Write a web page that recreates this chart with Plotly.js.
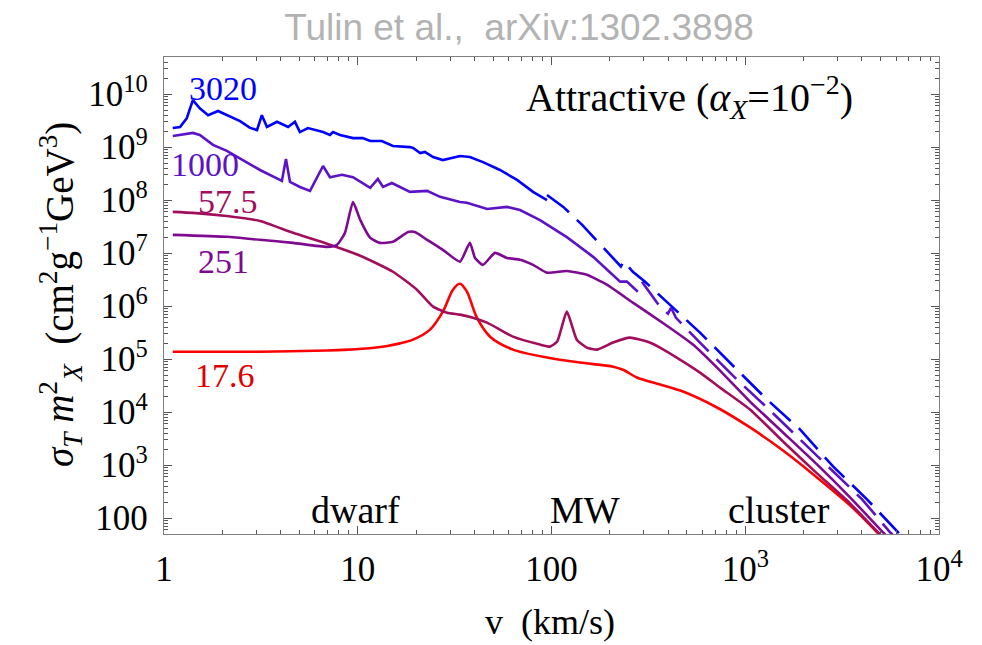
<!DOCTYPE html>
<html>
<head>
<meta charset="utf-8">
<script src="https://cdn.plot.ly/plotly-3.0.1.min.js"></script>
<style>
  html, body { margin: 0; padding: 0; background: #fff; }
  #chart { width: 982px; height: 645px; }
</style>
</head>
<body>
<div id="chart"></div>
<script>
// Transfer cross section sigma_T * m_X^2 vs relative velocity v (km/s),
// attractive Yukawa potential with alpha_X = 1e-2, for several DM masses (GeV).

// m_X = 3020 GeV (quantum regime, solid)
const v3020 = [1.11,1.21,1.31,1.41,1.53,1.69,1.90,2.11,2.47,2.78,3.02,3.20,3.40,3.83,4.37,4.74,5.03,5.53,6.62,7.19,7.45,8.10,9.45,10.6,11.6,13.3,15.2,18.6,19.3,21.0,22.2,24.5,27.5,33.7,37.9,44.3,54.2,66.4,80.3,94.8];
const s3020 = [2.29e9,2.4e9,3.5e9,7.7e9,5.4e9,4.0e9,4.8e9,4.0e9,3.1e9,2.3e9,2.1e9,4.0e9,2.4e9,3.0e9,2.4e9,3.0e9,1.92e9,2.29e9,1.92e9,1.69e9,1.92e9,1.69e9,1.48e9,1.48e9,1.30e9,1.30e9,1.05e9,1.0e9,9.6e8,7.7e8,8.1e8,6.5e8,5.7e8,6.8e8,6.5e8,5.2e8,3.7e8,2.4e8,1.43e8,1.0e8];
// m_X = 3020 GeV (classical regime, dashed)
const v3020c = [94.8,115,144,184,218,228,236,263,304,399,584,906,1295,1918,2838,4250,6140,6600];
const s3020c = [1.25e8,7.45e7,3.4e7,1.31e7,6.9e6,5.6e6,7.0e6,4.45e6,2.88e6,1.16e6,3.16e5,6.3e4,1.73e4,4.7e3,944,226,54,41];

// m_X = 1000 GeV
const v1000 = [1.11,1.41,1.53,1.79,2.11,2.56,3.13,4.06,4.26,4.47,5.03,5.67,6.17,6.62,7.19,8.29,9.45,11.6,12.7,13.5,15.0,18.6,22.8,26.6,33.7,36.6,46.5,58.9,68.8,87.2,120,164,226,245,279];
const s1000 = [1.62e9,1.85e9,1.69e9,1.10e9,8.5e8,5.7e8,3.7e8,2.3e8,5.97e8,2.2e8,1.77e8,1.49e8,2.6e8,4.4e8,2.7e8,3.0e8,2.7e8,1.70e8,2.5e8,1.77e8,2.1e8,1.43e8,1.49e8,1.15e8,9.2e7,8.9e7,6.8e7,7.45e7,6.5e7,4.2e7,2.0e7,8.5e6,2.9e6,2.9e6,1.87e6];
const v1000c = [293,363,399,414,439,584,906,1295,1918,2838,4010,5590,6000];
const s1000c = [2.88e6,9.75e5,7.2e5,9.3e5,6.0e5,2.04e5,4.1e4,1.22e4,3.05e3,760,226,54,42];

// m_X = 251 GeV
const v251 = [1.11,2.11,3.13,4.63,6.94,7.81,8.59,9.45,10.3,11.6,13.0,15.2,18.2,19.7,22.8,27.5,33.7,37.9,40.3,44.3,51.1,58.9,68.8,80.3,94.8,120,152,193,263,394,537,715,1058,1566,2346,3473,5140,5500];
const s251 = [2.21e7,2.03e7,1.78e7,1.56e7,1.31e7,1.43e7,2.41e7,9.2e7,4.24e7,1.94e7,1.56e7,1.63e7,2.5e7,2.5e7,1.78e7,1.15e7,6.9e6,1.56e7,8.1e6,6.0e6,1.01e7,8.1e6,7.5e6,6.0e6,4.26e6,4.6e6,3.9e6,2.53e6,1.16e6,4.26e5,1.88e5,6.9e4,1.58e4,4.13e3,1.03e3,247,54,42];

// m_X = 57.5 GeV
const v575 = [1.11,1.41,2.11,3.13,4.63,6.94,10.3,15.2,20.2,24.5,28.9,33.7,39.3,46.5,63.3,87.2,98.2,107,120,135,152,172,208,254,311,363,460,584,741,1058,1566,2346,3473,4840,5200];
const s575 = [6.0e7,5.74e7,5.0e7,4.05e7,2.41e7,1.50e7,8.9e6,4.45e6,2.04e6,9.75e5,7.5e5,6.9e5,6.05e5,4.87e5,2.65e5,1.88e5,1.72e5,2.14e5,7.86e5,2.33e5,1.65e5,1.51e5,2.05e5,2.54e5,2.14e5,1.65e5,9.8e4,5.57e4,2.9e4,1.12e4,2.79e3,698,190,54,42];

// m_X = 17.6 GeV
const v176 = [1.11,3.13,6.94,9.0,11.5,14.0,16.5,19.3,23.6,27.5,31.0,33.7,36.6,41.2,48.2,63.3,94.8,140,208,234,276,363,477,715,1058,1566,2346,3473,4790,5100];
const s176 = [1.38e5,1.38e5,1.45e5,1.51e5,1.6e5,1.75e5,1.98e5,2.33e5,3.6e5,7.86e5,2.04e6,2.64e6,1.87e6,6.05e5,2.65e5,1.51e5,1.07e5,8.6e4,7.2e4,6.3e4,4.5e4,3.31e4,2.44e4,1.22e4,5.13e3,1.89e3,586,174,54,42];

// Axis ticks
const xTickVals = [1, 10, 100, 1000, 10000];
const xTickText = ['1', '10', '100', '10<sup>3</sup>', '10<sup>4</sup>'];
const yTickVals = [1e2, 1e3, 1e4, 1e5, 1e6, 1e7, 1e8, 1e9, 1e10];
const yTickText = ['100', '10<sup>3</sup>', '10<sup>4</sup>', '10<sup>5</sup>', '10<sup>6</sup>',
                   '10<sup>7</sup>', '10<sup>8</sup>', '10<sup>9</sup>', '10<sup>10</sup>'];

// Curve labels (mass in GeV)
const massLabels = ['3020', '1000', '57.5', '251', '17.6'];
const regionLabels = ['dwarf', 'MW', 'cluster'];

const C3020 = '#0000ff', C1000 = '#5c12c6', C251 = '#7f0a92', C575 = '#a20e5c', C176 = '#ff0000';

function minorTicks(lo, hi) {
  const out = [];
  for (let k = lo; k < hi; k++) {
    for (let m = 2; m <= 9; m++) out.push(m * Math.pow(10, k));
  }
  return out;
}

const W = 2.6;
const dashPat = '28px,11px';
const traces = [
  {x: v176, y: s176, mode: 'lines', line: {color: C176, width: W, shape: 'spline', smoothing: 0.8}},
  {x: v575, y: s575, mode: 'lines', line: {color: C575, width: W, shape: 'spline', smoothing: 0.5}},
  {x: v251, y: s251, mode: 'lines', line: {color: C251, width: W, shape: 'spline', smoothing: 0.5}},
  {x: v1000, y: s1000, mode: 'lines', line: {color: C1000, width: W}},
  {x: v1000c, y: s1000c, mode: 'lines', line: {color: C1000, width: W, dash: dashPat}},
  {x: v3020, y: s3020, mode: 'lines', line: {color: C3020, width: W}},
  {x: v3020c, y: s3020c, mode: 'lines', line: {color: C3020, width: W, dash: dashPat}}
];

// plot-area pixel helpers for placing text
const L = 164, R = 939, T = 57, B = 534;
const px = x => (x - L) / (R - L);
const py = y => (B - y) / (B - T);

const serif = 'Liberation Serif, Times New Roman, serif';
function label(text, x, y, color, size) {
  return {text: text, x: px(x), y: py(y), xref: 'paper', yref: 'paper',
          xanchor: 'center', yanchor: 'middle', showarrow: false,
          font: {family: serif, size: size, color: color}};
}

const annotations = [
  label(massLabels[0], 223, 88, C3020, 34),
  label(massLabels[1], 205, 164, C1000, 34),
  label(massLabels[2], 228, 202, C575, 34),
  label(massLabels[3], 223, 261, C251, 34),
  label(massLabels[4], 225, 375, '#e00000', 34),
  label(regionLabels[0], 355, 510, '#000', 38),
  label(regionLabels[1], 585, 510, '#000', 38),
  label(regionLabels[2], 779, 510, '#000', 38),
  label('Attractive (<i>α</i><sub><i>X</i></sub>=10<sup>−2</sup>)', 689, 97, '#000', 40),
  label('v  (km/s)', 550, 622, '#000', 36),
  {text: '<i>σ</i><sub><i>T</i></sub> <i>m</i><sup>2</sup><sub><i>X</i></sub>  (cm<sup>2</sup>g<sup>−1</sup>GeV<sup>3</sup>)',
   x: px(60), y: py(295), xref: 'paper', yref: 'paper', xanchor: 'center', yanchor: 'middle',
   textangle: -90, showarrow: false, font: {family: serif, size: 39, color: '#000'}}
];

const axisCommon = {
  type: 'log', showgrid: false, zeroline: false,
  showline: true, linecolor: '#808080', linewidth: 1.2, mirror: 'allticks',
  ticks: 'inside', ticklen: 8, tickwidth: 1, tickcolor: '#555',
  tickfont: {family: serif, size: 35, color: '#000'}
};

const layout = {
  width: 982, height: 645,
  margin: {l: L, r: 982 - R, t: T, b: 645 - B, pad: 0},
  paper_bgcolor: '#fff', plot_bgcolor: '#fff',
  showlegend: false,
  title: {text: 'Tulin et al.,  arXiv:1302.3898', xref: 'container', yref: 'container',
          x: 519 / 982, xanchor: 'center', y: 1 - 27 / 645, yanchor: 'middle',
          font: {family: 'Liberation Sans, Arial, sans-serif', size: 37, color: '#b3b3b3'}},
  xaxis: Object.assign({}, axisCommon, {
    range: [0, 4], tickmode: 'array', tickvals: xTickVals, ticktext: xTickText,
    ticklabelstandoff: 4,
    minor: {tickmode: 'array', tickvals: minorTicks(0, 4), ticks: 'inside', ticklen: 4, tickcolor: '#555', showgrid: false}
  }),
  yaxis: Object.assign({}, axisCommon, {
    range: [1.70, 10.70], tickmode: 'array', tickvals: yTickVals, ticktext: yTickText,
    ticklabelstandoff: 8,
    minor: {tickmode: 'array', tickvals: minorTicks(1, 11), ticks: 'inside', ticklen: 4, tickcolor: '#555', showgrid: false}
  }),
  annotations: annotations
};

Plotly.newPlot('chart', traces, layout, {staticPlot: true, displayModeBar: false});
</script>
</body>
</html>
